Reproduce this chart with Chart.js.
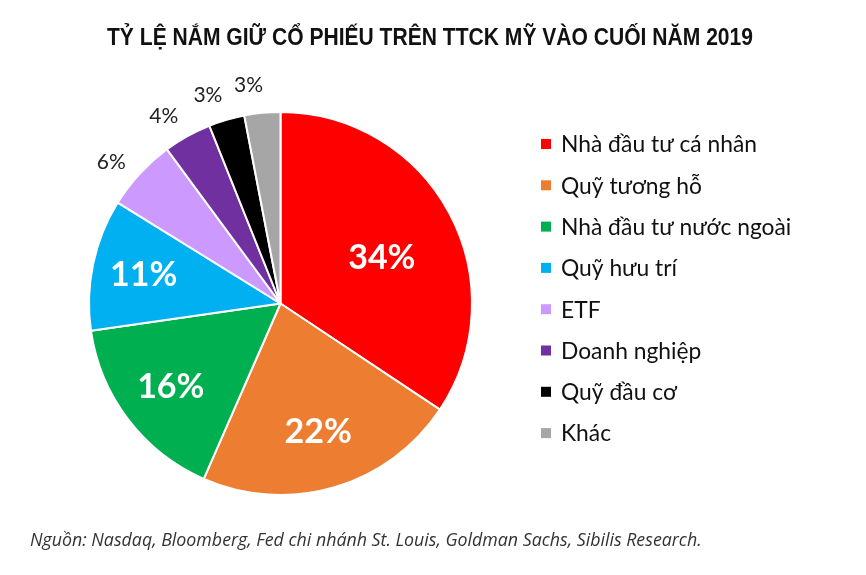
<!DOCTYPE html>
<html><head><meta charset="utf-8">
<script src="https://cdn.jsdelivr.net/npm/chart.js@4.4.1/dist/chart.umd.min.js"></script>
<style>html,body{margin:0;padding:0;background:#fff;}#wrap{width:866px;height:575px;}</style>
</head><body><div id="wrap"><canvas id="c" width="866" height="575"></canvas></div>
<script>
const title = "TỶ LỆ NẮM GIỮ CỔ PHIẾU TRÊN TTCK MỸ VÀO CUỐI NĂM 2019";
const source = "Nguồn: Nasdaq, Bloomberg, Fed chi nhánh St. Louis, Goldman Sachs, Sibilis Research.";
const categories = ["Nhà đầu tư cá nhân","Quỹ tương hỗ","Nhà đầu tư nước ngoài","Quỹ hưu trí","ETF","Doanh nghiệp","Quỹ đầu cơ","Khác"];
const values = [34,22,16,11,6,4,3,3];
const colors = ["#ff0000","#ed7d31","#00b050","#00b0f0","#cc99ff","#7030a0","#000000","#a6a6a6"];

const labelPlugin = {
  id:'labels',
  afterDatasetsDraw(chart, args, opts){
    const ctx = chart.ctx;
    const meta = chart.getDatasetMeta(0);
    ctx.save();
    ctx.textAlign='center'; ctx.textBaseline='middle';
    meta.data.forEach((arc,i)=>{
      const p = arc.getProps(['x','y','startAngle','endAngle','outerRadius'],true);
      const v = chart.data.datasets[0].data[i];
      const inside = v >= 10;
      const mid = (p.startAngle+p.endAngle)/2 + (inside ? (i===0 ? 0.07 : 0) : -0.05);
      const d = inside ? p.outerRadius*opts.inner[i] : p.outerRadius + 29;
      const x = p.x + Math.cos(mid)*d, y = p.y + Math.sin(mid)*d;
      if(inside){ ctx.fillStyle='#fff'; ctx.font='bold 34px Lato'; }
      else { ctx.fillStyle='#222'; ctx.font='21px Lato'; }
      ctx.fillText(v+'%', x, y);
    });
    ctx.restore();
  }
};
const decorPlugin = {
  id:'decor',
  afterDraw(chart){
    const ctx = chart.ctx;
    ctx.save();
    ctx.fillStyle='#111';
    ctx.font='bold 23px "Liberation Sans Narrow", "Liberation Sans"';
    ctx.textAlign='center'; ctx.textBaseline='middle';
    ctx.fillText(title, 430, 39, 646);
    ctx.textAlign='left';
    ctx.font='italic 17.8px "Open Sans"';
    ctx.fillStyle='#333';
    ctx.fillText(source, 30, 541, 672);
    // legend
    ctx.font='22.8px Lato';
    chart.data.labels.forEach((l,i)=>{
      const y = 144 + i*41.3;
      ctx.fillStyle = chart.data.datasets[0].backgroundColor[i];
      ctx.fillRect(541, y-5, 10, 10);
      ctx.fillStyle='#111';
      ctx.fillText(l, 561, y+1);
    });
    ctx.restore();
  }
};
new Chart(document.getElementById('c'),{
  type:'pie',
  data:{labels:categories,datasets:[{data:values,backgroundColor:colors,borderColor:'#fff',borderWidth:2}]},
  options:{
    responsive:false, animation:false,
    layout:{padding:{left:88,right:393,top:111,bottom:79}},
    plugins:{legend:{display:false},tooltip:{enabled:false},
      labels:{inner:[0.58,0.7,0.72,0.73]}}
  },
  plugins:[labelPlugin,decorPlugin]
});
</script></body></html>
